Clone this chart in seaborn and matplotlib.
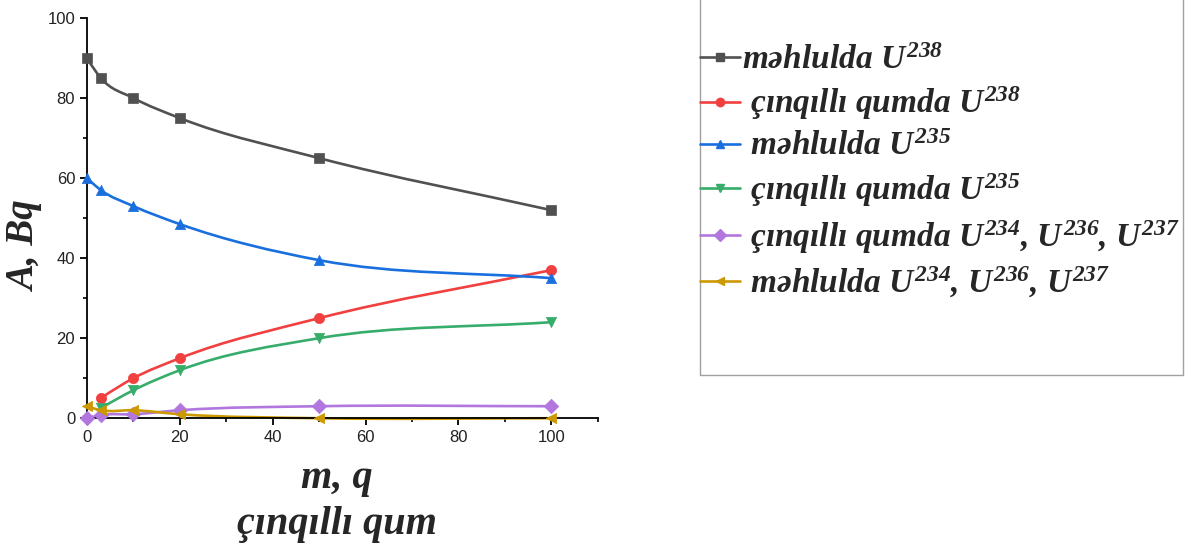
import numpy as np
import pandas as pd
import seaborn as sns
from matplotlib import pyplot as plt
from matplotlib.path import Path
from matplotlib.patches import PathPatch, Rectangle
from matplotlib.lines import Line2D
from matplotlib.ticker import MultipleLocator

# data
mass = [0, 3, 10, 20, 50, 100]
mass_sand = [3, 10, 20, 50, 100]
u238_solution = [90, 85, 80, 75, 65, 52]
u238_sand = [5, 10, 15, 25, 37]
u235_solution = [60, 57, 53, 48.5, 39.5, 35]
u235_sand = [2.5, 7, 12, 20, 24]
u_other_sand = [0, 0.8, 1, 2, 3, 3]
u_other_solution = [3, 2, 2, 1, 0, 0]

labels = ['məhlulda $U^{238}$',
          ' çınqıllı qumda $U^{238}$',
          ' məhlulda $U^{235}$',
          ' çınqıllı qumda $U^{235}$',
          ' çınqıllı qumda $U^{234}$, $U^{236}$, $U^{237}$',
          ' məhlulda $U^{234}$, $U^{236}$, $U^{237}$']
colors = ['#515151', '#F14040', '#1A6FDF', '#37AD6B', '#B177DE', '#CC9900']
markers = ['s', 'o', '^', 'v', 'D', '<']

series = [(mass, u238_solution), (mass_sand, u238_sand), (mass, u235_solution),
          (mass_sand, u235_sand), (mass, u_other_sand), (mass, u_other_solution)]

sns.set_theme(style='ticks')
plt.rcParams['font.family'] = ['Liberation Sans', 'DejaVu Sans']
plt.rcParams['mathtext.fontset'] = 'custom'
plt.rcParams['mathtext.rm'] = 'Liberation Serif:bold:italic'
plt.rcParams['mathtext.it'] = 'Liberation Serif:bold:italic'
plt.rcParams['mathtext.bf'] = 'Liberation Serif:bold:italic'

fig = plt.figure(figsize=(12, 5.46), dpi=100)
ax = fig.add_axes([0.0725, 0.234, 0.4255, 0.733])


def smooth_path(xs, ys):
    # smooth cubic curve through the points (drawn as bezier segments)
    xs = np.asarray(xs, float)
    ys = np.asarray(ys, float)
    h = np.diff(xs)
    d = np.diff(ys) / h
    m = np.zeros_like(ys)
    for i in range(1, len(xs) - 1):
        m[i] = (h[i] * d[i - 1] + h[i - 1] * d[i]) / (h[i - 1] + h[i])
    m[0] = 2 * d[0] - m[1]
    m[-1] = d[-1]
    verts = [(xs[0], ys[0])]
    codes = [Path.MOVETO]
    for i in range(len(xs) - 1):
        verts += [(xs[i] + h[i] / 3, ys[i] + m[i] * h[i] / 3),
                  (xs[i + 1] - h[i] / 3, ys[i + 1] - m[i + 1] * h[i] / 3),
                  (xs[i + 1], ys[i + 1])]
        codes += [Path.CURVE4] * 3
    return Path(verts, codes)


handles = []
for (xs, ys), c, mk, lab in zip(series, colors, markers, labels):
    ax.add_patch(PathPatch(smooth_path(xs, ys), fill=False, edgecolor=c,
                           lw=1.9, clip_on=False, zorder=2))
    df = pd.DataFrame({'m': xs, 'A': ys})
    sns.scatterplot(data=df, x='m', y='A', marker=mk, color=c, s=55,
                    edgecolor=c, linewidth=0.5, ax=ax, clip_on=False, zorder=3)
    handles.append(Line2D([], [], color=c, lw=1.9, marker=mk, markersize=6,
                          markeredgecolor=c, label=lab))

ax.set_xlim(0, 110)
ax.set_ylim(0, 100)
ax.xaxis.set_major_locator(MultipleLocator(20))
ax.xaxis.set_minor_locator(MultipleLocator(10))
ax.yaxis.set_major_locator(MultipleLocator(20))
ax.yaxis.set_minor_locator(MultipleLocator(10))
ax.set_xticks([0, 20, 40, 60, 80, 100])
sns.despine(ax=ax)
for sp in ['left', 'bottom']:
    ax.spines[sp].set_linewidth(1.3)
    ax.spines[sp].set_color('black')
ax.tick_params(which='major', direction='out', length=5, width=1.3,
               labelsize=12, color='black', labelcolor='#222222')
ax.tick_params(which='minor', direction='out', length=3, width=1.2, color='black')

ax.set_xlabel('m, q\nçınqıllı qum', fontsize=29, fontweight='bold',
              style='italic', family='Liberation Serif', linespacing=1.3)
ax.xaxis.set_label_coords(0.49, -0.105)
ax.set_ylabel('A, Bq', fontsize=28, fontweight='bold', style='italic',
              family='Liberation Serif')
ax.yaxis.set_label_coords(-0.085, 0.43)

# legend box (top edge falls outside the picture)
fig.patches.append(Rectangle((0.5833, 0.313), 0.4025, 0.75,
                             transform=fig.transFigure, fill=False,
                             edgecolor='#a0a0a0', lw=1.0))
leg = fig.legend(handles=handles, loc='upper left',
                 bbox_to_anchor=(0.5835, 0.918), frameon=False,
                 handlelength=1.2, handletextpad=0.05, labelspacing=0.27,
                 borderaxespad=0, borderpad=0,
                 prop={'family': 'Liberation Serif', 'weight': 'bold',
                       'style': 'italic', 'size': 24})

plt.savefig('out.png', dpi=100)
